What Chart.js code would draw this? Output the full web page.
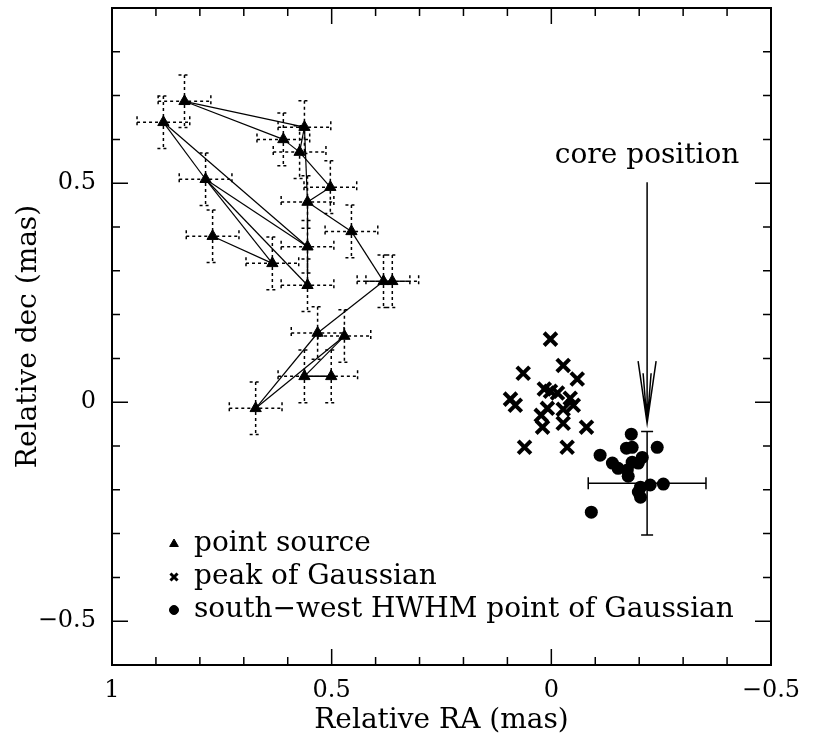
<!DOCTYPE html>
<html>
<head>
<meta charset="utf-8">
<script src="https://cdn.jsdelivr.net/npm/chart.js@4.4.0/dist/chart.umd.min.js"></script>
<style>
  html, body { margin: 0; padding: 0; background: #fff; }
  #wrap { width: 819px; height: 744px; }
</style>
</head>
<body>
<div id="wrap"><canvas id="posPlot"></canvas></div>
<script>
// point source positions (mas), one per epoch
const srcRA  = [0.835, 0.883, 0.562, 0.610, 0.573, 0.503, 0.787, 0.555, 0.455, 0.555,
                0.771, 0.635, 0.555, 0.382, 0.362, 0.532, 0.471, 0.562, 0.501, 0.673];
const srcDec = [0.687, 0.639, 0.628, 0.600, 0.571, 0.491, 0.509, 0.457, 0.390, 0.355,
                0.379, 0.317, 0.267, 0.276, 0.276, 0.158, 0.151, 0.059, 0.059, -0.014];
const srcErrRA  = 0.06;
const srcErrDec = 0.06;
// pairs of point-source indices joined by a line
const srcLinks = [[0, 2], [0, 3], [3, 4], [4, 5], [2, 4], [2, 7], [7, 9], [9, 12],
                  [5, 7], [7, 8], [8, 13], [13, 14], [13, 15], [15, 19], [19, 16],
                  [16, 17], [17, 18], [1, 9], [1, 6], [6, 9], [6, 11], [6, 12], [10, 11]];

// peak of Gaussian
const peakRA  = [0.002, 0.064, -0.027, -0.059, 0.093, 0.082, 0.002, -0.014, -0.043, -0.050,
                 0.009, 0.023, -0.027, 0.020, -0.027, -0.080, 0.061, -0.036, 0.016];
const peakDec = [0.144, 0.066, 0.084, 0.053, 0.007, -0.007, 0.025, 0.021, 0.009, -0.007,
                 -0.014, -0.030, -0.016, -0.057, -0.048, -0.057, -0.103, -0.103, 0.030];

// south-west HWHM point of Gaussian
const hwhmRA  = [-0.182, -0.241, -0.171, -0.184, -0.111, -0.207, -0.139, -0.184, -0.198,
                 -0.152, -0.173, -0.175, -0.203, -0.225, -0.255, -0.198, -0.203, -0.091];
const hwhmDec = [-0.073, -0.103, -0.105, -0.103, -0.121, -0.126, -0.139, -0.137, -0.139,
                 -0.151, -0.155, -0.169, -0.194, -0.189, -0.187, -0.205, -0.217, -0.251];

// core position with its uncertainty, and the arrow pointing at it
const coreRA = -0.218, coreDec = -0.185;
const coreErrRA = 0.134, coreErrDec = 0.118;
const arrowTopDec = 0.502, arrowTipDec = -0.048;

const xTicks = [1, 0.5, 0, -0.5];
const yTicks = [0.5, 0, -0.5];
const minorStep = 0.1;

const FONT = 'DejaVu Serif';

function fmt(v) {
  if (v === 0) return '0';
  return (v < 0 ? '\u2212' : '') + String(Math.abs(v));
}

const pts = (xs, ys) => xs.map((x, i) => ({x: x, y: ys[i]}));

// boxed frame with inward ticks on all four sides
const framePlugin = {
  id: 'frame',
  afterDraw(chart) {
    const {ctx, chartArea: a, scales: {x, y}} = chart;
    ctx.save();
    ctx.strokeStyle = '#000';
    ctx.lineWidth = 2;
    ctx.strokeRect(a.left, a.top, a.right - a.left, a.bottom - a.top);
    ctx.lineWidth = 1.5;
    ctx.beginPath();
    for (let i = -5; i <= 10; i++) {
      const px = x.getPixelForValue(i * minorStep);
      const len = (i % 5 === 0) ? 16 : 8;
      ctx.moveTo(px, a.bottom); ctx.lineTo(px, a.bottom - len);
      ctx.moveTo(px, a.top); ctx.lineTo(px, a.top + len);
    }
    for (let i = -6; i <= 9; i++) {
      const py = y.getPixelForValue(i * minorStep);
      const len = (i % 5 === 0) ? 16 : 8;
      ctx.moveTo(a.left, py); ctx.lineTo(a.left + len, py);
      ctx.moveTo(a.right, py); ctx.lineTo(a.right - len, py);
    }
    ctx.stroke();
    ctx.restore();
  }
};

function crossBar(ctx, x0, x1, y0, y1, cx, cy, cap) {
  ctx.moveTo(x0, cy); ctx.lineTo(x1, cy);
  ctx.moveTo(x0, cy - cap); ctx.lineTo(x0, cy + cap);
  ctx.moveTo(x1, cy - cap); ctx.lineTo(x1, cy + cap);
  ctx.moveTo(cx, y0); ctx.lineTo(cx, y1);
  ctx.moveTo(cx - cap, y0); ctx.lineTo(cx + cap, y0);
  ctx.moveTo(cx - cap, y1); ctx.lineTo(cx + cap, y1);
}

// dashed error bars on the point sources, solid cross on the core
const errorPlugin = {
  id: 'errbars',
  beforeDatasetsDraw(chart) {
    const {ctx, scales: {x, y}} = chart;
    ctx.save();
    ctx.strokeStyle = '#000';
    ctx.lineWidth = 1.5;
    ctx.setLineDash([3, 3]);
    ctx.beginPath();
    srcRA.forEach((ra, i) => {
      const dec = srcDec[i];
      crossBar(ctx,
        x.getPixelForValue(ra + srcErrRA), x.getPixelForValue(ra - srcErrRA),
        y.getPixelForValue(dec + srcErrDec), y.getPixelForValue(dec - srcErrDec),
        x.getPixelForValue(ra), y.getPixelForValue(dec), 6);
    });
    ctx.stroke();

    ctx.setLineDash([]);
    ctx.beginPath();
    crossBar(ctx,
      x.getPixelForValue(coreRA + coreErrRA), x.getPixelForValue(coreRA - coreErrRA),
      y.getPixelForValue(coreDec + coreErrDec), y.getPixelForValue(coreDec - coreErrDec),
      x.getPixelForValue(coreRA), y.getPixelForValue(coreDec), 6);
    ctx.stroke();
    ctx.restore();
  }
};

// "core position" label and arrow
const corePlugin = {
  id: 'coreLabel',
  afterDatasetsDraw(chart) {
    const {ctx, scales: {x, y}} = chart;
    const ax = x.getPixelForValue(coreRA);
    const top = y.getPixelForValue(arrowTopDec);
    const tip = y.getPixelForValue(arrowTipDec);
    ctx.save();
    ctx.strokeStyle = '#000';
    ctx.fillStyle = '#000';
    ctx.lineWidth = 1.5;
    ctx.beginPath();
    ctx.moveTo(ax, top); ctx.lineTo(ax, tip);
    ctx.moveTo(ax - 9, tip - 62); ctx.lineTo(ax, tip); ctx.lineTo(ax + 9, tip - 62);
    ctx.moveTo(ax - 4, tip - 50); ctx.lineTo(ax, tip); ctx.lineTo(ax + 4, tip - 50);
    ctx.stroke();
    ctx.font = '28px "' + FONT + '"';
    ctx.textAlign = 'center';
    ctx.textBaseline = 'alphabetic';
    ctx.fillText('core position', ax, top - 19);
    ctx.restore();
  }
};

// key in the lower left corner
const keyPlugin = {
  id: 'key',
  afterDraw(chart) {
    const {ctx, chartArea: a} = chart;
    const items = [
      {style: 'triangle', text: 'point source', r: 5, w: 1},
      {style: 'crossRot', text: 'peak of Gaussian', r: 5, w: 3},
      {style: 'circle', text: 'south\u2212west HWHM point of Gaussian', r: 4.5, w: 1}
    ];
    ctx.save();
    ctx.font = '28px "' + FONT + '"';
    ctx.textAlign = 'left';
    ctx.textBaseline = 'middle';
    items.forEach((it, i) => {
      const yy = a.bottom - 121 + i * 33;
      ctx.fillStyle = '#000';
      ctx.strokeStyle = '#000';
      ctx.lineWidth = it.w;
      Chart.helpers.drawPoint(ctx, {pointStyle: it.style, radius: it.r, borderWidth: it.w, rotation: 0}, a.left + 62, yy);
      ctx.fillText(it.text, a.left + 82, yy);
    });
    ctx.restore();
  }
};

const linkSets = srcLinks.map(([i, j]) => ({
  type: 'scatter',
  showLine: true,
  data: [{x: srcRA[i], y: srcDec[i]}, {x: srcRA[j], y: srcDec[j]}],
  borderColor: '#000',
  borderWidth: 1.2,
  pointRadius: 0,
  fill: false
}));

new Chart(document.getElementById('posPlot'), {
  type: 'scatter',
  data: {
    datasets: [
      ...linkSets,
      {
        label: 'point source',
        data: pts(srcRA, srcDec),
        pointStyle: 'triangle',
        pointRadius: 6.5,
        backgroundColor: '#000',
        borderColor: '#000',
        borderWidth: 1
      },
      {
        label: 'peak of Gaussian',
        data: pts(peakRA, peakDec),
        pointStyle: 'crossRot',
        pointRadius: 9,
        backgroundColor: '#000',
        borderColor: '#000',
        borderWidth: 4
      },
      {
        label: 'south-west HWHM point of Gaussian',
        data: pts(hwhmRA, hwhmDec),
        pointStyle: 'circle',
        pointRadius: 6.5,
        backgroundColor: '#000',
        borderColor: '#000',
        borderWidth: 0
      }
    ]
  },
  options: {
    responsive: true,
    maintainAspectRatio: false,
    animation: false,
    events: [],
    layout: {autoPadding: false, padding: {left: 0, right: 48, top: 8, bottom: 0}},
    plugins: {
      legend: {display: false},
      tooltip: {enabled: false}
    },
    scales: {
      x: {
        type: 'linear',
        reverse: true,
        min: -0.5,
        max: 1,
        grid: {display: false, drawTicks: false},
        border: {display: false},
        ticks: {
          color: '#000',
          font: {family: FONT, size: 24},
          padding: 11,
          maxRotation: 0,
          callback: (v) => fmt(v)
        },
        afterBuildTicks: (s) => { s.ticks = xTicks.map(v => ({value: v})); },
        afterFit: (s) => { s.height = 79; s.paddingLeft = 0; s.paddingRight = 0; },
        title: {
          display: true,
          text: 'Relative RA (mas)',
          color: '#000',
          font: {family: FONT, size: 28},
          padding: {top: 0, bottom: 6}
        }
      },
      y: {
        type: 'linear',
        min: -0.6,
        max: 0.9,
        grid: {display: false, drawTicks: false},
        border: {display: false},
        ticks: {
          color: '#000',
          font: {family: FONT, size: 24},
          padding: 16,
          callback: (v) => fmt(v)
        },
        afterBuildTicks: (s) => { s.ticks = yTicks.map(v => ({value: v})); },
        afterFit: (s) => { s.width = 112; s.paddingTop = 0; s.paddingBottom = 0; },
        title: {
          display: true,
          text: 'Relative dec (mas)',
          color: '#000',
          font: {family: FONT, size: 28},
          padding: {top: 12, bottom: 0}
        }
      }
    }
  },
  plugins: [errorPlugin, corePlugin, framePlugin, keyPlugin]
});
</script>
</body>
</html>
